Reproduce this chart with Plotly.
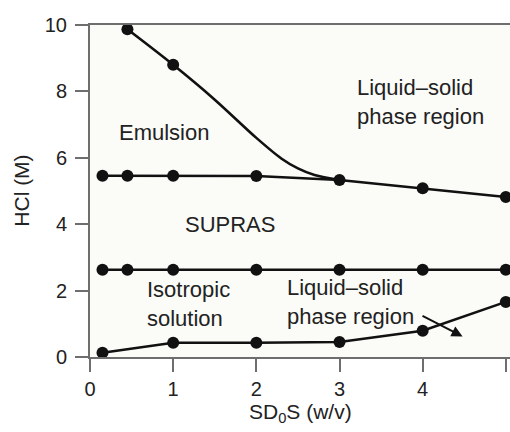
import plotly.graph_objects as go

# Phase boundaries of the SDoS / HCl system
emul_x = [0.45, 1.0]
emul_y = [9.87, 8.8]
# traced path of the emulsion boundary as it bends into the SUPRAS line
emul_path_x = [0.45, 1.0, 1.5, 2.0, 2.3, 2.5, 2.7, 3.0]
emul_path_y = [9.87, 8.8, 7.75, 6.6, 5.98, 5.68, 5.48, 5.33]

upper_x = [0.15, 0.45, 1, 2, 3, 4, 5]
upper_y = [5.46, 5.46, 5.46, 5.45, 5.33, 5.08, 4.82]

lower_x = [0.15, 0.45, 1, 2, 3, 4, 5]
lower_y = [2.63, 2.63, 2.63, 2.63, 2.63, 2.63, 2.63]

iso_x = [0.15, 1, 2, 3, 4, 5]
iso_y = [0.13, 0.43, 0.43, 0.45, 0.79, 1.66]

x_ticks = [0, 1, 2, 3, 4, 5]
y_ticks = [0, 2, 4, 6, 8, 10]

INK = "#111111"
TXT = "#222222"
AX = "#6e6e6e"
FONT = "Liberation Sans, Arial, sans-serif"

fig = go.Figure()

fig.add_trace(go.Scatter(x=emul_path_x, y=emul_path_y, mode="lines",
                         line=dict(color=INK, width=2.6, shape="spline", smoothing=0.9)))
fig.add_trace(go.Scatter(x=emul_x, y=emul_y, mode="markers",
                         marker=dict(color=INK, size=12)))
for xs, ys in [(upper_x, upper_y), (lower_x, lower_y), (iso_x, iso_y)]:
    fig.add_trace(go.Scatter(x=xs, y=ys, mode="lines+markers",
                             line=dict(color=INK, width=2.6),
                             marker=dict(color=INK, size=12)))

labels = [
    ("Emulsion", 0.32, 6.77),
    ("Liquid–solid<br>phase region", 3.19, 7.67),
    ("SUPRAS", 1.12, 4.0),
    ("Isotropic<br>solution", 0.66, 1.6),
    ("Liquid–solid<br>phase region", 2.35, 1.66),
]
for text, x, y in labels:
    fig.add_annotation(x=x, y=y, text=text, showarrow=False, xanchor="left",
                       yanchor="middle", align="left",
                       font=dict(family=FONT, size=22, color=TXT))

# pointer from the lower label into the liquid-solid region
fig.add_annotation(x=4.48, y=0.62, ax=3.98, ay=1.26, xref="x", yref="y",
                   axref="x", ayref="y", text="", showarrow=True,
                   arrowhead=2, arrowsize=1.1, arrowwidth=2, arrowcolor=INK)

# axis titles
fig.add_annotation(x=-0.165, y=0.5, xref="x domain", yref="paper", text="HCl (M)",
                   textangle=-90, showarrow=False, xanchor="center", yanchor="middle",
                   font=dict(family=FONT, size=21, color=TXT))
fig.add_annotation(x=0.5, y=-0.169, xref="paper", yref="paper",
                   text="SD<sub>0</sub>S (w/v)", showarrow=False,
                   xanchor="center", yanchor="middle",
                   font=dict(family=FONT, size=21, color=TXT))

fig.update_layout(
    width=510, height=432,
    margin=dict(l=90, r=0, t=25, b=75),
    paper_bgcolor="white", plot_bgcolor="#fbfbf8",
    showlegend=False,
    font=dict(family=FONT, size=20, color=TXT),
)
fig.update_xaxes(range=[0, 5.05], tickvals=x_ticks, showgrid=False, zeroline=False,
                 showline=True, linecolor=AX, linewidth=2, mirror=True,
                 ticks="outside", ticklen=13, tickwidth=2, tickcolor=AX,
                 tickfont=dict(family=FONT, size=20, color=TXT))
fig.update_yaxes(range=[0, 10], tickvals=y_ticks, showgrid=False, zeroline=False,
                 showline=True, linecolor=AX, linewidth=2,
                 ticks="outside", ticklen=13, tickwidth=2, tickcolor=AX,
                 ticklabelstandoff=4,
                 tickfont=dict(family=FONT, size=20, color=TXT))

fig.write_html("out.html")
